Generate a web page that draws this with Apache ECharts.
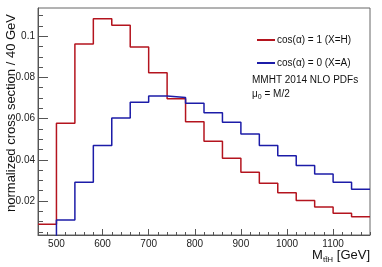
<!DOCTYPE html>
<html>
<head>
<meta charset="utf-8">
<script src="https://cdn.jsdelivr.net/npm/echarts@6/dist/echarts.min.js"></script>
<style>
html,body{margin:0;padding:0;background:#fff;}
#c{width:382px;height:267px;}
</style>
</head>
<body>
<div id="c"></div>
<script>
// Bin lower edges (GeV), bin width 40 GeV, last upper edge 1180
var binEdges = [460, 500, 540, 580, 620, 660, 700, 740, 780, 820, 860, 900, 940, 980, 1020, 1060, 1100, 1140];
var lastEdge = 1180;
// cos(alpha) = 1 (X=H)
var redValues = [0.0087, 0.0577, 0.0962, 0.1085, 0.1053, 0.0948, 0.0823, 0.0697, 0.0585, 0.0490, 0.0407, 0.0340, 0.0286, 0.0240, 0.0203, 0.0171, 0.0140, 0.0124];
// cos(alpha) = 0 (X=A)
var blueValues = [0.0, 0.0108, 0.0291, 0.0470, 0.0603, 0.0679, 0.0710, 0.0703, 0.0674, 0.0629, 0.0582, 0.0525, 0.0470, 0.0420, 0.0373, 0.0331, 0.0291, 0.0257];
var xTickLabels = [500, 600, 700, 800, 900, 1000, 1100];
var yTickLabels = [0.02, 0.04, 0.06, 0.08, 0.1];

var xMin = 460, xMax = 1180, yMin = 0.0035, yMax = 0.1137;
var xMinor = [];
for (var v = 460; v <= 1180; v += 20) { if (v % 100 !== 0) xMinor.push(v); }
var yMinor = [];
for (var k = 1; k <= 22; k++) { var yv = +(k * 0.005).toFixed(3); if (yv > yMin && yv < yMax && Math.abs(yv / 0.02 - Math.round(yv / 0.02)) > 1e-6) yMinor.push(yv); }

function hist(vals) {
  var d = [];
  for (var i = 0; i < binEdges.length; i++) d.push([binEdges[i], vals[i]]);
  d.push([lastEdge, vals[vals.length - 1]]);
  return d;
}

var FONT = '"Liberation Sans", Arial, Helvetica, sans-serif';
var axisColor = '#555';
var redColor = '#b4141e';
var blueColor = '#1c1ca8';

var chart = echarts.init(document.getElementById('c'), null, {renderer: 'canvas'});
chart.setOption({
  animation: false,
  backgroundColor: '#fff',
  textStyle: {fontFamily: FONT},
  grid: {left: 38, right: 12, top: 8, bottom: 32, show: true, borderColor: '#666', borderWidth: 1, backgroundColor: 'transparent'},
  legend: {
    orient: 'vertical', left: 252, top: 30, itemWidth: 18, itemHeight: 2, icon: 'rect', itemGap: 13,
    textStyle: {fontFamily: FONT, fontSize: 10, color: '#111', padding: [0, 0, 0, -3]},
    data: ['cos(α) = 1 (X=H)', 'cos(α) = 0 (X=A)']
  },
  xAxis: [
    {type: 'value', min: xMin, max: xMax, position: 'bottom',
     axisLine: {show: true, lineStyle: {color: axisColor, width: 1}},
     axisTick: {show: true, inside: true, length: 6, customValues: xTickLabels, lineStyle: {color: axisColor}},
     axisLabel: {show: true, customValues: xTickLabels, margin: 4, fontSize: 10, color: '#222', fontFamily: FONT,
       formatter: function (val) { return String(val); }},
     splitLine: {show: false}},
    {type: 'value', min: xMin, max: xMax, position: 'bottom',
     axisLine: {show: false},
     axisTick: {show: true, inside: true, length: 3, customValues: xMinor, lineStyle: {color: axisColor}},
     axisLabel: {show: false}, splitLine: {show: false}}
  ],
  yAxis: [
    {type: 'value', min: yMin, max: yMax, position: 'left',
     axisLine: {show: true, lineStyle: {color: axisColor, width: 1}},
     axisTick: {show: true, inside: true, length: 10, customValues: yTickLabels, lineStyle: {color: axisColor}},
     axisLabel: {show: true, customValues: yTickLabels, margin: 3, fontSize: 10, color: '#222', fontFamily: FONT,
       formatter: function (val) { return String(+val.toFixed(3)); }},
     splitLine: {show: false}},
    {type: 'value', min: yMin, max: yMax, position: 'left',
     axisLine: {show: false},
     axisTick: {show: true, inside: true, length: 5, customValues: yMinor, lineStyle: {color: axisColor}},
     axisLabel: {show: false}, splitLine: {show: false}}
  ],
  series: [
    {name: 'cos(α) = 1 (X=H)', type: 'line', step: 'end', symbol: 'none', clip: true,
     xAxisIndex: 0, yAxisIndex: 0, color: redColor, lineStyle: {color: redColor, width: 1.5}, data: hist(redValues)},
    {name: 'cos(α) = 0 (X=A)', type: 'line', step: 'end', symbol: 'none', clip: true,
     xAxisIndex: 0, yAxisIndex: 0, color: blueColor, lineStyle: {color: blueColor, width: 1.5}, data: hist(blueValues)}
  ],
  graphic: [
    {type: 'text', left: 252, top: 75, style: {text: 'MMHT 2014 NLO PDFs', font: '10px ' + FONT, fill: '#111'}},
    {type: 'text', left: 252, top: 89, style: {
      text: '{a|μ}{s|0}{a| = M/2}', font: '10px ' + FONT, fill: '#111',
      rich: {a: {fontSize: 10, fontFamily: FONT, color: '#111'}, s: {fontSize: 7, fontFamily: FONT, color: '#111', padding: [6, 0, 0, 0]}}
    }},
    {type: 'text', x: 11, y: 113, rotation: Math.PI / 2, style: {
      text: 'normalized cross section / 40 GeV', font: '13px ' + FONT, fill: '#111', align: 'center', verticalAlign: 'middle'
    }},
    {type: 'text', right: 12, top: 249, style: {
      text: '{a|M}{s|tt\u0304H}{a| [GeV]}', font: '13px ' + FONT, fill: '#111',
      rich: {a: {fontSize: 13, fontFamily: FONT, color: '#111'}, s: {fontSize: 8, fontFamily: FONT, color: '#111', padding: [8, 0, 0, 0]}}
    }}
  ]
});
</script>
</body>
</html>
